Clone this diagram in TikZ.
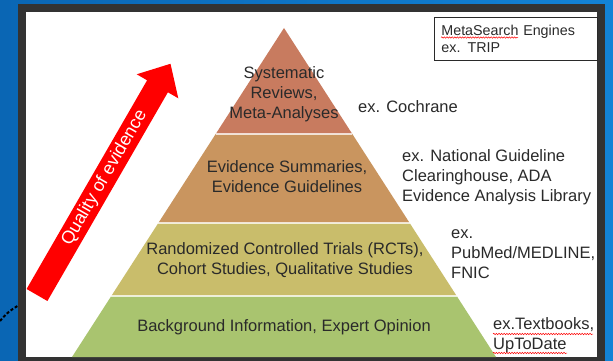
\documentclass[tikz,border=0pt]{standalone}
\usepackage{fontspec}
\setmainfont{Liberation Sans}
\usetikzlibrary{positioning, decorations.pathmorphing}
\definecolor{slideblue}{HTML}{0A66B4}
\definecolor{slidelight}{HTML}{1383D6}
\definecolor{framegray}{HTML}{333333}
\definecolor{pyrtop}{HTML}{C87B5F}
\definecolor{pyrmid}{HTML}{C9955F}
\definecolor{pyrlow}{HTML}{C9BD6B}
\definecolor{pyrbase}{HTML}{A9C46F}
\definecolor{txtgray}{HTML}{2A2A2A}

\begin{document}
\begin{tikzpicture}[x=1pt, y=1pt,
  every node/.style={font=\fontsize{16.5}{20}\selectfont, text=txtgray},
  tier/.style={align=center, inner sep=0pt},
  source/.style={align=left, anchor=west, inner sep=0pt},
  spell/.style={draw=red, line width=0.5pt, decorate,
    decoration={snake, amplitude=0.7pt, segment length=2.6pt}}]
  \useasboundingbox (0,0) rectangle (613,-361);
  % slide background and frame
  \shade[left color=slideblue, right color=slidelight] (0,0) rectangle (613,-361);
  \fill[framegray] (17.5,-4) rectangle (605,-361);
  \fill[white] (26,-12) rectangle (597,-357);
  \draw[black, line width=2pt, dash pattern=on 3pt off 2pt] (0,-321) to[bend left=10] (17.5,-306);
  % pyramid tiers, apex (284,-28), base at y=-357
  \foreach \ya/\yb/\col in {28/134/pyrtop, 134/223/pyrmid, 223/296/pyrlow, 296/357/pyrbase} {
    \pgfmathsetmacro\da{0.6444*(\ya-28)}
    \pgfmathsetmacro\db{0.6444*(\yb-28)}
    \fill[\col] (284-\da,-\ya) -- (284+\da,-\ya) -- (284+\db,-\yb) -- (284-\db,-\yb) -- cycle;
  }
  \foreach \y in {134,223,296} {
    \pgfmathsetmacro\dy{0.6444*(\y-28)}
    \draw[white, opacity=0.75, line width=1.8pt] (284-\dy,-\y) -- (284+\dy,-\y);
  }
  % tier labels
  \node[tier] (sysrev) at (284,-94) {Systematic\\Reviews,\\Meta-Analyses};
  \node[tier] (summ) at (287,-177) {Evidence Summaries,\\Evidence Guidelines};
  \node[tier] (rct) at (285,-260) {Randomized Controlled Trials (RCTs),\\Cohort Studies, Qualitative Studies};
  \node[tier] (backgr) at (284,-327) {Background Information, Expert Opinion};
  % example sources on the right
  \node[source] (cochrane) at (358,-107) {ex. Cochrane};
  \node[source] (guideline) at (402,-177) {ex. National Guideline\\Clearinghouse, ADA\\Evidence Analysis Library};
  \node[source] (pubmed) at (451,-254) {ex.\\PubMed/MEDLINE,\\FNIC};
  \node[source] (textbook) at (493,-335) {ex.Textbooks,\\UpToDate};
  \node[draw=txtgray, thick, anchor=north west, minimum width=163pt, minimum height=43pt,
    text width=149pt, inner xsep=7pt, align=left, font=\fontsize{14.3}{17}\selectfont]
    (metasearch) at (434,-17) {MetaSearch Engines\\ex. TRIP};
  % spell-check squiggles
  \draw[spell] (441,-37.5) -- (518,-37.5);
  \draw[spell] (493,-334) -- (593,-334);
  \draw[spell] (493,-353) -- (567,-353);
  % quality arrow
  \fill[red, shift={(37,-295)}, rotate=60]
    (0,-12) -- (241,-12) -- (241,-24) -- (267,0) -- (241,24) -- (241,12) -- (0,12) -- cycle;
  \node[text=white, rotate=60, font=\fontsize{18}{20}\selectfont, inner sep=0pt] (quality) at (104.5,-178) {Quality of evidence};
\end{tikzpicture}
\end{document}
